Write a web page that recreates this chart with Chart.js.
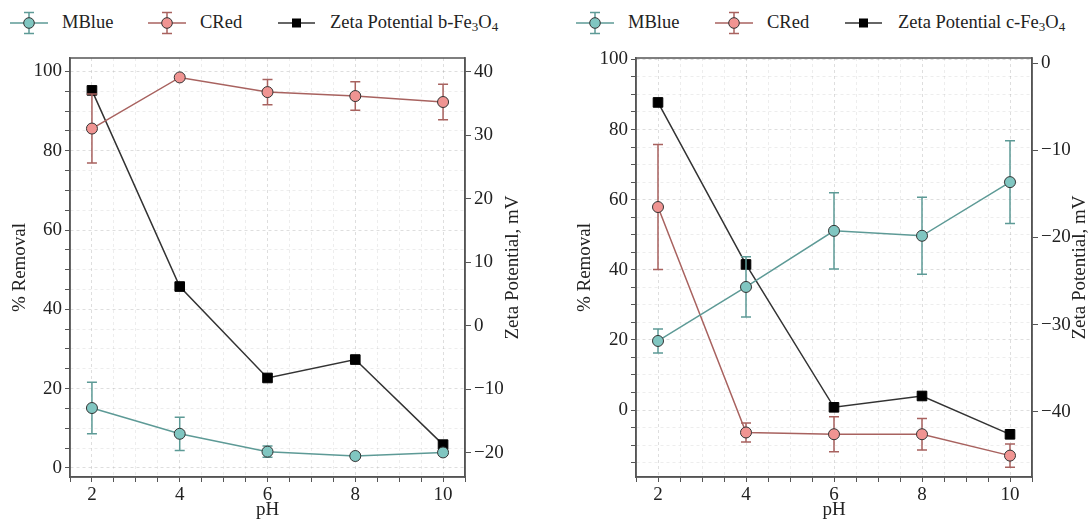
<!DOCTYPE html>
<html>
<head>
<meta charset="utf-8">
<script src="https://cdn.jsdelivr.net/npm/chart.js@4.4.1/dist/chart.umd.min.js"></script>
<style>
    html, body { margin: 0; padding: 0; background: #fff; }
    body {
        width: 1091px; height: 521px; position: relative; overflow: hidden;
        font-family: "Liberation Serif", "Times New Roman", serif;
    }
    canvas { position: absolute; top: 40px; }
    #chartB { left: 0; }
    #chartC { left: 545px; }
    .lg-icon { position: absolute; top: 11px; }
    .lg-text { position: absolute; top: 9px; font-size: 18.5px; line-height: 26px; color: #222; white-space: nowrap; }
    .lg-text sub { font-size: 13px; vertical-align: -3px; line-height: 0; }
</style>
</head>
<body>
<canvas id="chartB" width="545" height="481"></canvas>
<canvas id="chartC" width="546" height="481"></canvas>
<div id="legend"></div>

<script>
// ======================================================
// DATA
// ======================================================
const pH = [2, 4, 6, 8, 10];

// left panel: b-Fe3O4
const mblueB    = [15.1, 8.6, 4.1, 3.0, 3.9];
const mblueBErr = [6.5, 4.2, 1.4, 0.4, 0.5];
const credB     = [85.6, 98.5, 94.8, 93.8, 92.3];
const credBErr  = [8.7, 0.4, 3.2, 3.6, 4.5];
const zetaB     = [37.1, 6.2, -8.2, -5.3, -18.7];

// right panel: c-Fe3O4
const mblueC    = [19.7, 35.1, 51.1, 49.7, 65.0];
const mblueCErr = [3.4, 8.6, 10.9, 11.0, 11.8];
const credC     = [57.9, -6.4, -6.9, -6.9, -13.0];
const credCErr  = [17.8, 2.7, 5.0, 4.5, 3.3];
const zetaC     = [-4.5, -23.1, -39.5, -38.2, -42.6];

// labelled ticks
const phTicks      = [2, 4, 6, 8, 10];
const removalTicks = [0, 20, 40, 60, 80, 100];

// ======================================================
// STYLE
// ======================================================
const MBLUE_LINE = "#5d9a96";
const MBLUE_FILL = "#80c6c1";
const CRED_LINE  = "#a8625f";
const CRED_FILL  = "#f09492";
const ZETA_LINE  = "#333333";
const AXIS = "#555555";
const TEXT = "#222222";
const FONT = "'Liberation Serif', 'Times New Roman', serif";

const tickFont  = { family: FONT, size: 19 };
const titleFont = { family: FONT, size: 19 };

// ======================================================
// PLUGINS
// ======================================================
const errorBars = {
    id: "errorBars",
    beforeDatasetDraw(chart, args) {
        const ds = chart.data.datasets[args.index];
        if (!ds.errors) return;
        const xs = chart.scales.x;
        const ys = chart.scales[ds.yAxisID];
        const ctx = chart.ctx;
        ctx.save();
        ctx.strokeStyle = ds.borderColor;
        ctx.lineWidth = 1.5;
        ds.data.forEach((p, i) => {
            const e = ds.errors[i];
            const px = xs.getPixelForValue(p.x);
            const top = ys.getPixelForValue(p.y + e);
            const bot = ys.getPixelForValue(p.y - e);
            ctx.beginPath();
            ctx.moveTo(px, top); ctx.lineTo(px, bot);
            ctx.moveTo(px - 5, top); ctx.lineTo(px + 5, top);
            ctx.moveTo(px - 5, bot); ctx.lineTo(px + 5, bot);
            ctx.stroke();
        });
        ctx.restore();
    }
};

// box around the plot + right title reading bottom-to-top
const frame = {
    id: "frame",
    beforeDatasetsDraw(chart, args, opts) {
        const { left, top, right, bottom } = chart.chartArea;
        const ctx = chart.ctx;
        ctx.save();
        ctx.strokeStyle = AXIS;
        ctx.lineWidth = 1.5;
        ctx.strokeRect(left, top, right - left, bottom - top);

        ctx.translate(chart.width - opts.titleOffset, (top + bottom) / 2);
        ctx.rotate(-Math.PI / 2);
        ctx.fillStyle = TEXT;
        ctx.font = `${titleFont.size}px ${FONT}`;
        ctx.textAlign = "center";
        ctx.textBaseline = "middle";
        ctx.fillText(opts.title, 0, 0);
        ctx.restore();
    }
};

// ======================================================
// HELPERS
// ======================================================
const isMajor = (v, list) => list.some(t => Math.abs(t - v) < 1e-6);
const minus = v => String(v).replace("-", "\u2212");
const gridColor = list => c => isMajor(c.tick.value, list) ? "rgba(0,0,0,0.13)" : "rgba(0,0,0,0.07)";

function series(label, xs, ys, errs, line, fill, axis) {
    return {
        label: label,
        data: xs.map((x, i) => ({ x: x, y: ys[i] })),
        errors: errs,
        yAxisID: axis,
        borderColor: line,
        borderWidth: 1.5,
        pointRadius: 5.5,
        pointBackgroundColor: fill,
        pointBorderColor: "#333",
        pointBorderWidth: 1,
        tension: 0
    };
}

function zetaSeries(label, xs, ys) {
    return {
        label: label,
        data: xs.map((x, i) => ({ x: x, y: ys[i] })),
        yAxisID: "y2",
        borderColor: ZETA_LINE,
        borderWidth: 1.5,
        pointStyle: "rect",
        pointRadius: 6.8,
        pointBackgroundColor: "#000",
        pointBorderColor: "#000",
        pointBorderWidth: 1,
        tension: 0
    };
}

// ======================================================
// PANEL
// ======================================================
function makePanel(id, cfg) {
    return new Chart(document.getElementById(id), {
        type: "line",
        data: {
            datasets: [
                series("MBlue", pH, cfg.mblue, cfg.mblueErr, MBLUE_LINE, MBLUE_FILL, "y"),
                series("CRed", pH, cfg.cred, cfg.credErr, CRED_LINE, CRED_FILL, "y"),
                zetaSeries(cfg.zetaLabel, pH, cfg.zeta)
            ]
        },
        options: {
            responsive: false,
            animation: false,
            events: [],
            layout: { padding: { top: 18, left: 0, right: 0, bottom: 0 } },
            plugins: {
                legend: { display: false },
                tooltip: { enabled: false },
                frame: { title: "Zeta Potential, mV", titleOffset: cfg.rightTitleOffset }
            },
            scales: {
                x: {
                    type: "linear", min: 1.5, max: 10.5,
                    ticks: {
                        stepSize: 0.5, autoSkip: false, includeBounds: false, maxRotation: 0,
                        color: TEXT, font: tickFont, padding: 2,
                        callback: v => isMajor(v, phTicks) ? v : ""
                    },
                    grid: { color: gridColor(phTicks), tickColor: AXIS, tickLength: 5 },
                    border: { color: AXIS, width: 1.5, dash: [3, 3] },
                    title: { display: true, text: "pH", color: TEXT, font: titleFont, padding: 0 },
                    afterFit: s => { s.height = 44; }
                },
                y: {
                    type: "linear", position: "left", min: cfg.yMin, max: cfg.yMax,
                    ticks: {
                        stepSize: 5, autoSkip: false, includeBounds: false,
                        color: TEXT, font: tickFont, padding: 3,
                        callback: v => isMajor(v, removalTicks) ? v : ""
                    },
                    grid: { color: gridColor(removalTicks), tickColor: AXIS, tickLength: 5 },
                    border: { color: AXIS, width: 1.5, dash: [3, 3] },
                    title: {
                        display: true, text: "% Removal", color: TEXT, font: titleFont,
                        padding: { top: cfg.leftTitlePad, bottom: 0 }
                    },
                    afterFit: s => { s.width = cfg.leftWidth; }
                },
                y2: {
                    type: "linear", position: "right", min: cfg.zMin, max: cfg.zMax,
                    ticks: {
                        stepSize: 10, includeBounds: false,
                        color: TEXT, font: tickFont, padding: 3,
                        callback: v => minus(v)
                    },
                    grid: { drawOnChartArea: false, tickColor: AXIS, tickLength: 6 },
                    border: { color: AXIS, width: 1.5 },
                    afterFit: s => { s.width = cfg.rightWidth; }
                }
            }
        },
        plugins: [errorBars, frame]
    });
}

makePanel("chartB", {
    mblue: mblueB, mblueErr: mblueBErr, cred: credB, credErr: credBErr, zeta: zetaB,
    zetaLabel: "Zeta Potential b-Fe3O4",
    yMin: -2.3, yMax: 103.4, zMin: -23.8, zMax: 42.2,
    leftWidth: 70, rightWidth: 80, leftTitlePad: 9, rightTitleOffset: 32
});

makePanel("chartC", {
    mblue: mblueC, mblueErr: mblueCErr, cred: credC, credErr: credCErr, zeta: zetaC,
    zetaLabel: "Zeta Potential c-Fe3O4",
    yMin: -19.1, yMax: 100.4, zMin: -47.5, zMax: 0.6,
    leftWidth: 91, rightWidth: 59, leftTitlePad: 29, rightTitleOffset: 11
});

// ======================================================
// LEGENDS (html, so the subscripts stay real text)
// ======================================================
function errIcon(line, fill) {
    return `<svg width="38" height="24">
        <line x1="0" y1="12" x2="38" y2="12" stroke="${line}" stroke-width="1.5"/>
        <line x1="19" y1="1.5" x2="19" y2="22.5" stroke="${line}" stroke-width="1.5"/>
        <line x1="14" y1="1.5" x2="24" y2="1.5" stroke="${line}" stroke-width="1.5"/>
        <line x1="14" y1="22.5" x2="24" y2="22.5" stroke="${line}" stroke-width="1.5"/>
        <circle cx="19" cy="12" r="5.3" fill="${fill}" stroke="#333" stroke-width="1"/>
    </svg>`;
}

function zetaIcon() {
    return `<svg width="38" height="24">
        <line x1="0" y1="12" x2="37" y2="12" stroke="${ZETA_LINE}" stroke-width="1.5"/>
        <rect x="14" y="7.5" width="9" height="9" fill="#000"/>
    </svg>`;
}

const legendItems = [
    { iconX: 10,  textX: 62,  icon: errIcon(MBLUE_LINE, MBLUE_FILL), text: "MBlue" },
    { iconX: 148, textX: 200, icon: errIcon(CRED_LINE, CRED_FILL),   text: "CRed" },
    { iconX: 278, textX: 330, icon: zetaIcon(), text: "Zeta Potential b-Fe<sub>3</sub>O<sub>4</sub>" },
    { iconX: 576, textX: 628, icon: errIcon(MBLUE_LINE, MBLUE_FILL), text: "MBlue" },
    { iconX: 715, textX: 767, icon: errIcon(CRED_LINE, CRED_FILL),   text: "CRed" },
    { iconX: 845, textX: 898, icon: zetaIcon(), text: "Zeta Potential c-Fe<sub>3</sub>O<sub>4</sub>" }
];

const legend = document.getElementById("legend");
legendItems.forEach(item => {
    legend.innerHTML += `<div class="lg-icon" style="left:${item.iconX}px">${item.icon}</div>`;
    legend.innerHTML += `<div class="lg-text" style="left:${item.textX}px">${item.text}</div>`;
});
</script>
</body>
</html>
